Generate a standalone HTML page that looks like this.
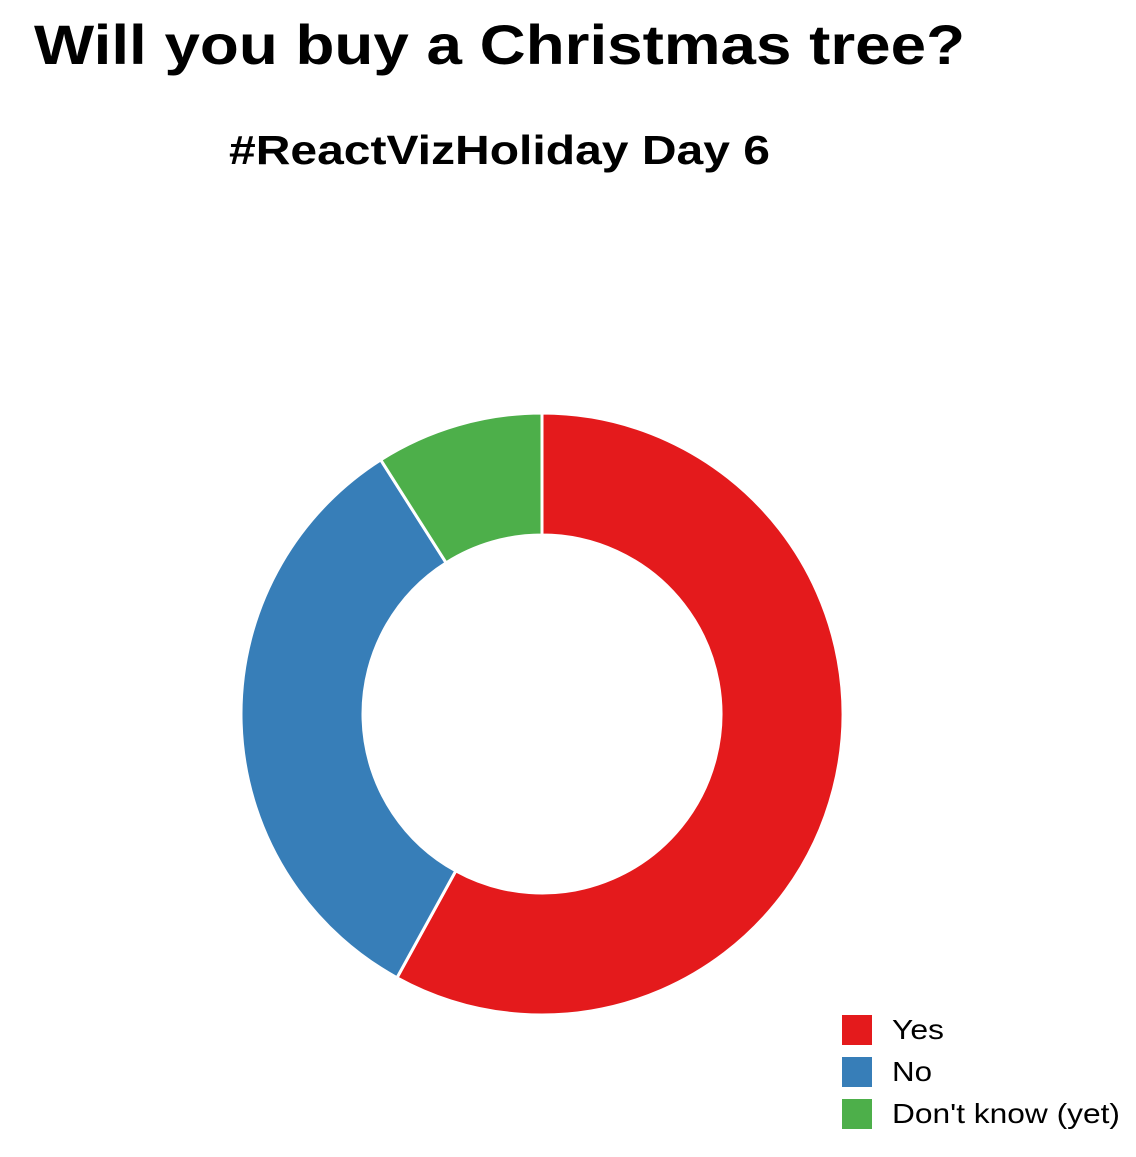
<!DOCTYPE html>
<html><head><meta charset="utf-8">
<style>
html,body{margin:0;padding:0;background:#fff;}
body{width:1136px;height:1152px;overflow:hidden;font-family:"Liberation Sans",Arial,sans-serif;}
</style></head>
<body>
<svg id="chart" width="1136" height="1152" xmlns="http://www.w3.org/2000/svg">
<text x="34" y="64" textLength="931" lengthAdjust="spacingAndGlyphs" font-family="Liberation Sans, Arial, sans-serif" font-weight="bold" font-size="56" fill="#000">Will you buy a Christmas tree?</text>
<text x="229" y="164" textLength="541" lengthAdjust="spacingAndGlyphs" font-family="Liberation Sans, Arial, sans-serif" font-weight="bold" font-size="41" fill="#000">#ReactVizHoliday Day 6</text>
<g id="slices"></g>
<g id="legend"></g>
</svg>
<script>
const categories = ["Yes", "No", "Don't know (yet)"];
const values = [58, 33, 9];
const colors = ["#e41a1c", "#377eb8", "#4daf4a"];
const labelWidths = [52, 40, 228];

const cx = 542, cy = 714, R = 301, r = 179;
const ns = "http://www.w3.org/2000/svg";
const total = values.reduce((a, b) => a + b, 0);
function pt(a, rad) { return [cx + rad * Math.sin(a), cy - rad * Math.cos(a)]; }
const g = document.getElementById('slices');
let a0 = 0;
values.forEach((v, i) => {
  const a1 = a0 + v / total * 2 * Math.PI;
  const large = (a1 - a0) > Math.PI ? 1 : 0;
  const [x0, y0] = pt(a0, R), [x1, y1] = pt(a1, R), [x2, y2] = pt(a1, r), [x3, y3] = pt(a0, r);
  const p = document.createElementNS(ns, 'path');
  p.setAttribute('d', `M${x0},${y0}A${R},${R} 0 ${large} 1 ${x1},${y1}L${x2},${y2}A${r},${r} 0 ${large} 0 ${x3},${y3}Z`);
  p.setAttribute('fill', colors[i]);
  p.setAttribute('stroke', '#fff');
  p.setAttribute('stroke-width', '3');
  
  
  g.appendChild(p);
  a0 = a1;
});
const lg = document.getElementById('legend');
categories.forEach((c, i) => {
  const y = 1015 + i * 42;
  const rect = document.createElementNS(ns, 'rect');
  rect.setAttribute('x', 842); rect.setAttribute('y', y);
  rect.setAttribute('width', 30); rect.setAttribute('height', 30);
  rect.setAttribute('fill', colors[i]);
  
  
  lg.appendChild(rect);
  const t = document.createElementNS(ns, 'text');
  t.setAttribute('x', 892); t.setAttribute('y', y + 24);
  t.setAttribute('font-size', '28');
  t.setAttribute('font-family', 'Liberation Sans, Arial, sans-serif');
  t.setAttribute('textLength', labelWidths[i]);
  t.setAttribute('lengthAdjust', 'spacingAndGlyphs');
  t.textContent = c;
  
  
  lg.appendChild(t);
});
</script>
</body></html>
